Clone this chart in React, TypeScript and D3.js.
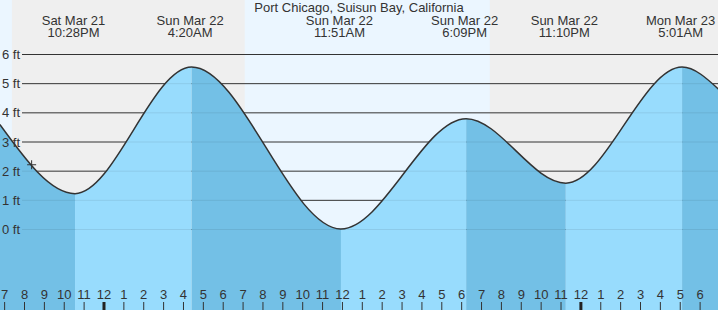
import React from "react";
import * as d3 from "d3";

const W = 718;
const H = 310;

const title = "Port Chicago, Suisun Bay, California";

// Tide extremes (high/low predictions)
const tideTimes = [
  "2026-03-21T22:28",
  "2026-03-22T04:20",
  "2026-03-22T11:51",
  "2026-03-22T18:09",
  "2026-03-22T23:10",
  "2026-03-23T05:01",
];
const tideHeights = [1.23, 5.57, 0.02, 3.8, 1.59, 5.57];
const tideDayLabels = ["Sat Mar 21", "Sun Mar 22", "Sun Mar 22", "Sun Mar 22", "Sun Mar 22", "Mon Mar 23"];
const tideTimeLabels = ["10:28PM", "4:20AM", "11:51AM", "6:09PM", "11:10PM", "5:01AM"];

// Heights read at the chart's left and right edges
const edgeTimes = ["2026-03-21T18:41", "2026-03-23T06:54"];
const edgeHeights = [3.6, 4.78];

// Night periods (sunset -> sunrise)
const nightStarts = ["2026-03-21T19:22", "2026-03-22T19:25"];
const nightEnds = ["2026-03-22T07:05", "2026-03-23T07:05"];

// Current time marker
const nowTime = "2026-03-21T20:17";
const nowHeight = 2.22;

const yTicks = [0, 1, 2, 3, 4, 5, 6];
const domainStart = "2026-03-21T18:46";
const domainEnd = "2026-03-23T06:54";

const parse = (s: string) => {
  const [d, t] = s.split("T");
  const [y, m, day] = d.split("-").map(Number);
  const [hh, mm] = t.split(":").map(Number);
  return new Date(Date.UTC(y, m - 1, day, hh, mm));
};

export default function App() {
  const x = d3.scaleUtc().domain([parse(domainStart), parse(domainEnd)]).range([0, W]);
  // the water curve is drawn slightly right of the hour ticks, as in the reference
  const xc = d3.scaleUtc().domain([parse(domainStart), parse(domainEnd)]).range([1.5, W + 1.5]);
  const y = d3.scaleLinear().domain([0, 6]).range([229.5, 54.5]);

  type P = { t: Date; v: number };
  const pts: P[] = [
    { t: parse(edgeTimes[0]), v: edgeHeights[0] },
    ...tideTimes.map((t, i) => ({ t: parse(t), v: tideHeights[i] })),
    { t: parse(edgeTimes[1]), v: edgeHeights[1] },
  ];

  const line = d3
    .line<P>()
    .x((d) => xc(d.t))
    .y((d) => y(d.v))
    .curve(d3.curveMonotoneX);
  const area = d3
    .area<P>()
    .x((d) => xc(d.t))
    .y0(H)
    .y1((d) => y(d.v))
    .curve(d3.curveMonotoneX);

  // Bands: falling (dark) from high to low, rising (light) from low to high
  const bandEdges = pts.map((p) => xc(p.t));
  const bands = [] as { x0: number; x1: number; falling: boolean }[];
  for (let i = 0; i < pts.length - 1; i++) {
    bands.push({ x0: bandEdges[i], x1: bandEdges[i + 1], falling: pts[i + 1].v < pts[i].v });
  }

  const hours = d3.utcHour.range(d3.utcHour.ceil(x.domain()[0]), x.domain()[1]);
  const font = "'Liberation Sans', Arial, sans-serif";
  const textColor = "#333";

  return (
    <svg
      width={W}
      height={H}
      style={{ position: "absolute", left: 0, top: 0, display: "block" }}
      fontFamily={font}
    >
      <defs>
        <clipPath id="water">
          <path d={area(pts) || ""} />
        </clipPath>
      </defs>
      {/* day background */}
      <rect x={0} y={0} width={W} height={H} fill="#ebf6ff" />
      {/* nights */}
      {nightStarts.map((s, i) => {
        const x0 = x(parse(s));
        const x1 = Math.min(W, x(parse(nightEnds[i])));
        return <rect key={i} x={x0} y={0} width={x1 - x0} height={H} fill="#efefef" />;
      })}
      {/* grid lines */}
      {yTicks.map((v) => (
        <line key={v} x1={22} x2={W} y1={y(v)} y2={y(v)} stroke="#333" strokeWidth={1} />
      ))}
      {/* water */}
      <g clipPath="url(#water)">
        {bands.map((b, i) => (
          <rect
            key={i}
            x={b.x0}
            y={0}
            width={b.x1 - b.x0}
            height={H}
            fill={b.falling ? "#73c0e6" : "#98dcfd"}
          />
        ))}
        {yTicks.map((v) => (
          <line key={v} x1={22} x2={W} y1={y(v)} y2={y(v)} stroke="#000" strokeOpacity={0.08} strokeWidth={1} />
        ))}
      </g>
      <path d={line(pts) || ""} fill="none" stroke="#333" strokeWidth={1.5} />
      {/* current marker */}
      <g stroke="#333" strokeWidth={1}>
        <line x1={xc(parse(nowTime)) - 4.5} x2={xc(parse(nowTime)) + 4.5} y1={y(nowHeight)} y2={y(nowHeight)} />
        <line x1={xc(parse(nowTime))} x2={xc(parse(nowTime))} y1={y(nowHeight) - 4.5} y2={y(nowHeight) + 4.5} />
      </g>
      {/* y labels */}
      {yTicks.map((v) => (
        <text key={v} x={2} y={y(v) + 4.5} fontSize={13} fill={textColor}>
          {`${v} ft`}
        </text>
      ))}
      {/* title */}
      <text x={359} y={12} fontSize={13} textAnchor="middle" fill={textColor}>
        {title}
      </text>
      {/* extreme labels */}
      {tideTimes.map((t, i) => {
        const cx = x(parse(t));
        return (
          <g key={i}>
            <text x={cx} y={24.5} fontSize={13} textAnchor="middle" fill={textColor}>
              {tideDayLabels[i]}
            </text>
            <text x={cx} y={37} fontSize={13} textAnchor="middle" fill={textColor}>
              {tideTimeLabels[i]}
            </text>
          </g>
        );
      })}
      {/* hour ticks */}
      {hours.map((h, i) => {
        const hx = x(h);
        const hr = h.getUTCHours();
        const lbl = hr % 12 === 0 ? 12 : hr % 12;
        const mid = hr === 0;
        return (
          <g key={i}>
            <text x={hx} y={299} fontSize={13} textAnchor="middle" fill={textColor}>
              {lbl}
            </text>
            <line
              x1={hx}
              x2={hx}
              y1={302}
              y2={H}
              stroke={mid ? "#222" : "#333"}
              strokeWidth={mid ? 3 : 1}
            />
          </g>
        );
      })}
    </svg>
  );
}
